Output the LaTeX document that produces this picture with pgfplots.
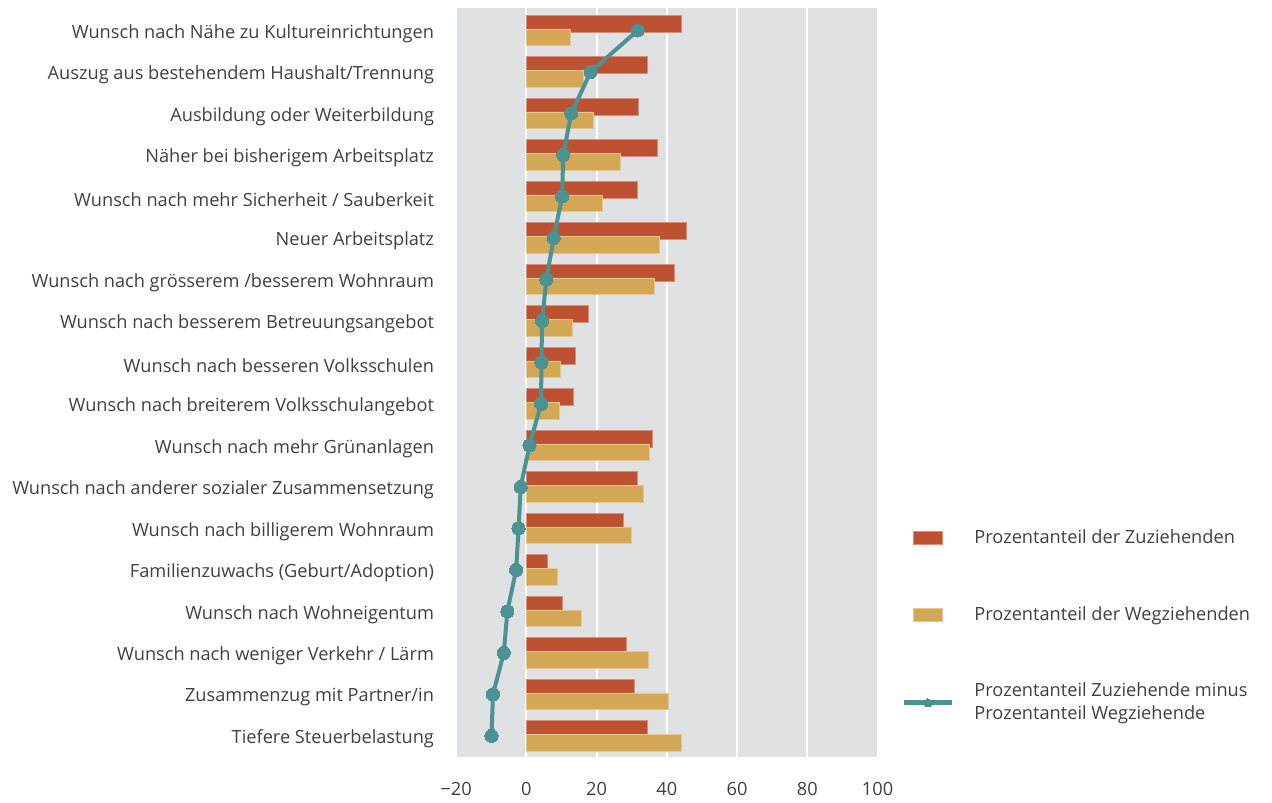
\documentclass[border=0pt]{standalone}
\usepackage{pgfplots}
\pgfplotsset{compat=1.18}
\usepackage{fontspec}
\setmainfont{Open Sans}
\definecolor{barred}{HTML}{BD5132}
\definecolor{baryel}{HTML}{D4A755}
\definecolor{teal2}{HTML}{4B9295}
\definecolor{bggray}{HTML}{E0E1E3}
\definecolor{txt}{HTML}{404040}
\begin{document}
\begin{tikzpicture}
\useasboundingbox (0,0) rectangle (636pt,401pt);
\begin{axis}[
  at={(227.5pt,22.5pt)}, anchor=south west,
  scale only axis, width=212pt, height=374.5pt,
  xmin=-20.3, xmax=100.4,
  ymin=-0.54, ymax=17.51, y dir=reverse,
  axis background/.style={fill=bggray},
  axis line style={draw=none},
  major tick length=0pt,
  xtick={-20,0,20,40,60,80,100},
  xticklabels={−20,0,20,40,60,80,100},
  ytick={0,...,17},
  yticklabels={
    Wunsch nach Nähe zu Kultureinrichtungen,
    Auszug aus bestehendem Haushalt/Trennung,
    Ausbildung oder Weiterbildung,
    Näher bei bisherigem Arbeitsplatz,
    Wunsch nach mehr Sicherheit / Sauberkeit,
    Neuer Arbeitsplatz,
    Wunsch nach grösserem /besserem Wohnraum,
    Wunsch nach besserem Betreuungsangebot,
    Wunsch nach besseren Volksschulen,
    Wunsch nach breiterem Volksschulangebot,
    Wunsch nach mehr Grünanlagen,
    Wunsch nach anderer sozialer Zusammensetzung,
    Wunsch nach billigerem Wohnraum,
    Familienzuwachs (Geburt/Adoption),
    Wunsch nach Wohneigentum,
    Wunsch nach weniger Verkehr / Lärm,
    Zusammenzug mit Partner/in,
    Tiefere Steuerbelastung},
  xmajorgrids, grid style={white, line width=1pt},
  ticklabel style={font=\fontsize{9.1}{11}\selectfont, text=txt},
  yticklabel style={xshift=-7pt, yshift=-1.5pt},
  xticklabel style={yshift=-9pt},
  legend cell align=left,
  legend style={at={(axis description cs:1,0)}, anchor=north west,
    xshift=11pt, yshift=116pt, draw=none, fill=none, inner sep=0pt,
    row sep=26pt, font=\fontsize{9.1}{11.5}\selectfont, text=txt,
    nodes={align=left},
    /tikz/every odd column/.append style={column sep=8pt}},
]
\addplot[xbar, bar width=0.4, bar shift=-0.165, fill=barred, draw=barred!65!white, line width=0.3pt,
  legend image code/.code={\fill[fill=barred] (-7.25pt,-3.2pt) rectangle (7.25pt,3.2pt);}]
  coordinates {(44.1,0) (34.5,1) (31.9,2) (37.2,3) (31.7,4) (45.5,5) (42.0,6) (17.7,7) (14.0,8)
   (13.5,9) (36.0,10) (31.7,11) (27.6,12) (5.9,13) (10.2,14) (28.4,15) (30.8,16) (34.3,17)};
\addlegendentry{Prozentanteil der Zuziehenden}
\addplot[xbar, bar width=0.4, bar shift=0.165, fill=baryel, draw=baryel!65!white, line width=0.3pt,
  legend image code/.code={\fill[fill=baryel] (-7.25pt,-3.2pt) rectangle (7.25pt,3.2pt);}]
  coordinates {(12.4,0) (16.3,1) (19.1,2) (26.7,3) (21.6,4) (37.8,5) (36.3,6) (13.2,7) (9.7,8)
   (9.3,9) (35.1,10) (33.3,11) (29.9,12) (8.8,13) (15.7,14) (34.8,15) (40.3,16) (44.2,17)};
\addlegendentry{Prozentanteil der Wegziehenden}
\addplot[teal2, line width=2pt, mark=*, mark size=3.3pt, mark options={fill=teal2, draw=teal2, line width=0pt},
  legend image code/.code={\draw[teal2, line width=2.5pt, mark=*, mark size=2pt, mark options={fill=teal2,draw=teal2,line width=0pt}, mark repeat=2, mark phase=2] plot coordinates {(-12pt,0pt) (0pt,0pt) (12pt,0pt)};}]
  coordinates {(31.7,0) (18.3,1) (12.8,2) (10.5,3) (10.2,4) (7.8,5) (5.7,6) (4.5,7) (4.3,8)
   (4.2,9) (0.9,10) (-1.6,11) (-2.2,12) (-2.9,13) (-5.4,14) (-6.4,15) (-9.5,16) (-9.9,17)};
\addlegendentry{Prozentanteil Zuziehende minus\\Prozentanteil Wegziehende}
\end{axis}
\end{tikzpicture}
\end{document}
